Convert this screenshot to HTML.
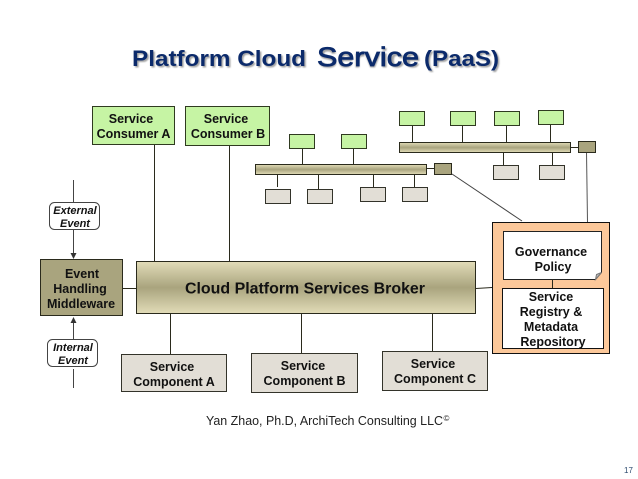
<!DOCTYPE html>
<html>
<head>
<meta charset="utf-8">
<style>
html,body{margin:0;padding:0;background:#fff;width:638px;height:479px;overflow:hidden}
svg{display:block}
text{font-family:"Liberation Sans",sans-serif;fill:#111;text-anchor:middle}
.b{font-weight:bold;font-size:12.5px}
.i{font-weight:bold;font-style:italic;font-size:11px}
.l{stroke:#2a2a1c;stroke-width:1;fill:none}
.g{fill:#c6f4a4;stroke:#2f3a20;stroke-width:1}
.s{fill:#e2ded6;stroke:#33332a;stroke-width:1}
.m{fill:#a9a47e;stroke:#2a2a1c;stroke-width:1}
</style>
</head>
<body>
<svg width="638" height="479" viewBox="0 0 638 479" xmlns="http://www.w3.org/2000/svg">
<defs>
<linearGradient id="bar" x1="0" y1="0" x2="0" y2="1">
<stop offset="0" stop-color="#e2dcb8"/>
<stop offset="0.5" stop-color="#a9a47e"/>
<stop offset="1" stop-color="#e2dcb8"/>
</linearGradient>
<filter id="sh" x="-5%" y="-20%" width="110%" height="150%"><feGaussianBlur stdDeviation="0.8"/></filter>
</defs>

<!-- Title -->
<g font-weight="bold" filter="url(#sh)" opacity="0.55">
<text x="133.5" y="67.5" font-size="22" textLength="174" lengthAdjust="spacingAndGlyphs" style="text-anchor:start;fill:#555">Platform Cloud</text>
<text x="318.5" y="67.5" font-size="27" textLength="102" lengthAdjust="spacingAndGlyphs" style="text-anchor:start;fill:#555">Service</text>
<text x="425.5" y="67.5" font-size="22" textLength="75" lengthAdjust="spacingAndGlyphs" style="text-anchor:start;fill:#555">(PaaS)</text>
</g>
<g font-weight="bold">
<text x="132" y="66" font-size="22" textLength="174" lengthAdjust="spacingAndGlyphs" style="text-anchor:start;fill:#0b2a6b">Platform Cloud</text>
<text x="317" y="66" font-size="27" textLength="102" lengthAdjust="spacingAndGlyphs" style="text-anchor:start;fill:#0b2a6b;font-weight:normal;stroke:#0b2a6b;stroke-width:.8">Service</text>
<text x="424" y="66" font-size="22" textLength="75" lengthAdjust="spacingAndGlyphs" style="text-anchor:start;fill:#0b2a6b">(PaaS)</text>
</g>

<!-- Connectors -->
<path class="l" d="M154.5 145V261M229.5 146V261M170.5 314V354M301.5 314V353M432.5 314V351M123 288.500H136"/>
<path class="l" d="M476 288.500L492 287.500"/>
<path class="l" d="M302.500 149V164M353.500 149V164M412.500 125V142M462.500 125V142M506.500 125V142M550.500 124V142"/>
<path class="l" d="M277.500 174V187M318.500 174V189M373.500 174V187M414.500 174V187M503.500 152V165M552.500 152V165"/>
<path class="l" d="M427 168.500H434M571 147.500H578"/>
<path d="M452 174L522 221" stroke="#444" stroke-width="1" fill="none"/>
<path d="M586.500 152L587.500 222" stroke="#555" stroke-width="1" fill="none"/>
<path d="M73.500 180V202M73.500 230V254M73.500 320V339M73.500 369V388" stroke="#444" stroke-width="1" fill="none"/>
<path d="M73.500 259L70.500 253H76.500ZM73.500 317L70.500 323H76.500Z" fill="#333"/>

<!-- Consumers -->
<rect class="g" x="92.500" y="106.500" width="82" height="38"/>
<rect class="g" x="185.500" y="106.500" width="84" height="39"/>
<text class="b" x="131" y="123">Service</text>
<text class="b" x="133.500" y="138">Consumer A</text>
<text class="b" x="226" y="123">Service</text>
<text class="b" x="228" y="138">Consumer B</text>

<!-- Small green -->
<rect class="g" x="289.500" y="134.500" width="25" height="14"/>
<rect class="g" x="341.500" y="134.500" width="25" height="14"/>
<rect class="g" x="399.500" y="111.500" width="25" height="14"/>
<rect class="g" x="450.500" y="111.500" width="25" height="14"/>
<rect class="g" x="494.500" y="111.500" width="25" height="14"/>
<rect class="g" x="538.500" y="110.500" width="25" height="14"/>

<!-- Buses -->
<rect x="255.500" y="164.500" width="171" height="10" fill="url(#bar)" stroke="#2a2a1c"/>
<rect x="399.500" y="142.500" width="171" height="10" fill="url(#bar)" stroke="#2a2a1c"/>
<rect class="m" x="434.500" y="163.500" width="17" height="11"/>
<rect class="m" x="578.500" y="141.500" width="17" height="11"/>

<!-- Small grey -->
<rect class="s" x="265.500" y="189.500" width="25" height="14"/>
<rect class="s" x="307.500" y="189.500" width="25" height="14"/>
<rect class="s" x="360.500" y="187.500" width="25" height="14"/>
<rect class="s" x="402.500" y="187.500" width="25" height="14"/>
<rect class="s" x="493.500" y="165.500" width="25" height="14"/>
<rect class="s" x="539.500" y="165.500" width="25" height="14"/>

<!-- Events -->
<rect x="49.500" y="202.500" width="50" height="27" rx="5" fill="#fff" stroke="#444"/>
<text class="i" x="75" y="214">External</text>
<text class="i" x="75" y="227">Event</text>
<rect x="47.500" y="339.500" width="50" height="27" rx="5" fill="#fff" stroke="#444"/>
<text class="i" x="73" y="351">Internal</text>
<text class="i" x="73" y="364">Event</text>

<!-- Middleware -->
<rect class="m" x="40.500" y="259.500" width="82" height="56"/>
<text class="b" x="82" y="278">Event</text>
<text class="b" x="80" y="293">Handling</text>
<text class="b" x="81" y="308">Middleware</text>

<!-- Broker -->
<rect x="136.500" y="261.500" width="339" height="52" fill="url(#bar)" stroke="#2a2a1c"/>
<text x="305" y="293.500" font-size="16" font-weight="bold" textLength="240" lengthAdjust="spacingAndGlyphs">Cloud Platform Services Broker</text>

<!-- Components -->
<rect class="s" x="121.500" y="354.500" width="105" height="37"/>
<text class="b" x="172" y="371">Service</text>
<text class="b" x="174" y="386">Component A</text>
<rect class="s" x="251.500" y="353.500" width="106" height="39"/>
<text class="b" x="303" y="370">Service</text>
<text class="b" x="304.500" y="385">Component B</text>
<rect class="s" x="382.500" y="351.500" width="105" height="39"/>
<text class="b" x="433" y="368">Service</text>
<text class="b" x="435" y="383">Component C</text>

<!-- Governance -->
<rect x="492.500" y="222.500" width="117" height="131" fill="#fcc89a" stroke="#111"/>
<path d="M503.500 231.500H601.500V272.500L595.500 279.500H503.500Z" fill="#fff" stroke="#222"/>
<path d="M595.500 279.500L596.500 274.500L601.500 272.500Z" fill="#bbb" stroke="#777"/>
<path class="l" d="M552.500 279V288"/>
<rect x="502.500" y="288.500" width="101" height="60" fill="#fff" stroke="#111"/>
<text class="b" x="551" y="256">Governance</text>
<text class="b" x="553" y="271">Policy</text>
<text class="b" x="551" y="301">Service</text>
<text class="b" x="551" y="316">Registry &amp;</text>
<text class="b" x="551" y="331">Metadata</text>
<text class="b" x="553" y="346">Repository</text>

<!-- Footer -->
<text x="206" y="425" font-size="12.500" textLength="237" lengthAdjust="spacingAndGlyphs" style="text-anchor:start;fill:#222">Yan Zhao, Ph.D, ArchiTech Consulting LLC</text>
<text x="446.500" y="421" font-size="8" style="fill:#222">©</text>
<text x="628.500" y="473" font-size="8" style="fill:#2c4a6e">17</text>
</svg>
</body>
</html>
